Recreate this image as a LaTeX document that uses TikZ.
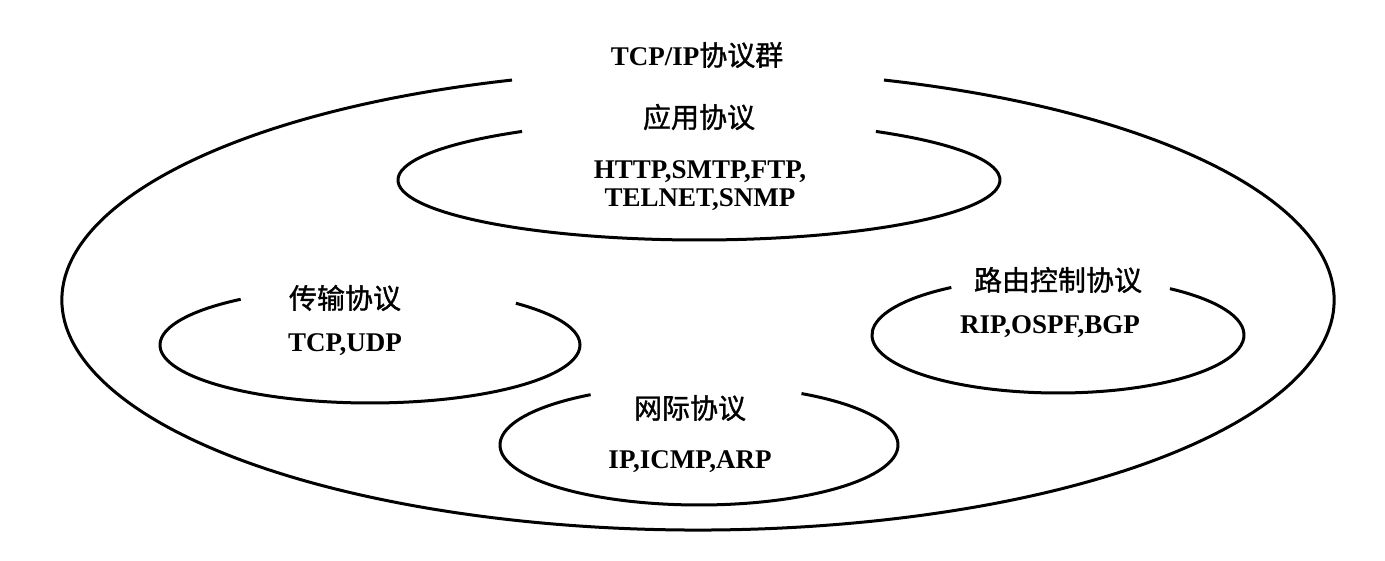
\documentclass[tikz,border=0pt]{standalone}
\usepackage{fontspec}
\setmainfont{Liberation Serif}
\newfontfamily\cjk[FakeBold=1.2]{Noto Sans CJK SC}
\tikzset{ring/.style={line width=3pt},
  lbl/.style={font=\cjk\fontsize{28}{30}\selectfont},
  txt/.style={font=\bfseries\fontsize{27}{28}\selectfont,align=center}}
\begin{document}
\begin{tikzpicture}[x=1pt,y=1pt]
                \useasboundingbox (0,0) rectangle (1385,561);
                \coordinate (all) at (698,261);
                \coordinate (app) at (699,381);
                \coordinate (tra) at (370,216);
                \coordinate (rou) at (1058,226);
                \coordinate (net) at (699,116);
                \draw[ring] ([shift={(107:636 and 230)}]all) arc[start angle=107,end angle=433,x radius=636,y radius=230];
                \draw[ring] ([shift={(126:301 and 60)}]app) arc[start angle=126,end angle=414,x radius=301,y radius=60];
                \draw[ring] ([shift={(128:210 and 58)}]tra) arc[start angle=128,end angle=406,x radius=210,y radius=58];
                \draw[ring] ([shift={(125:186 and 58)}]rou) arc[start angle=125,end angle=413,x radius=186,y radius=58];
                \draw[ring] ([shift={(123:199 and 60)}]net) arc[start angle=123,end angle=419,x radius=199,y radius=60];
                \node[lbl] (allt) at (697,506) {{\rmfamily\bfseries\fontsize{27}{30}\selectfont TCP/IP}协议群};
                \node[lbl] (appt) at (699,444) {应用协议};
                \node[txt] (appp) at (700,375) {HTTP,SMTP,FTP,\\TELNET,SNMP};
                \node[lbl] (trat) at (345,263) {传输协议};
                \node[txt] (trap) at (345,216) {TCP,UDP};
                \node[lbl] (rout) at (1058,281) {路由控制协议};
                \node[txt] (roup) at (1050,234) {RIP,OSPF,BGP};
                \node[lbl] (nett) at (690,153) {网际协议};
                \node[txt] (netp) at (690,99) {IP,ICMP,ARP};
            \end{tikzpicture}
\end{document}
